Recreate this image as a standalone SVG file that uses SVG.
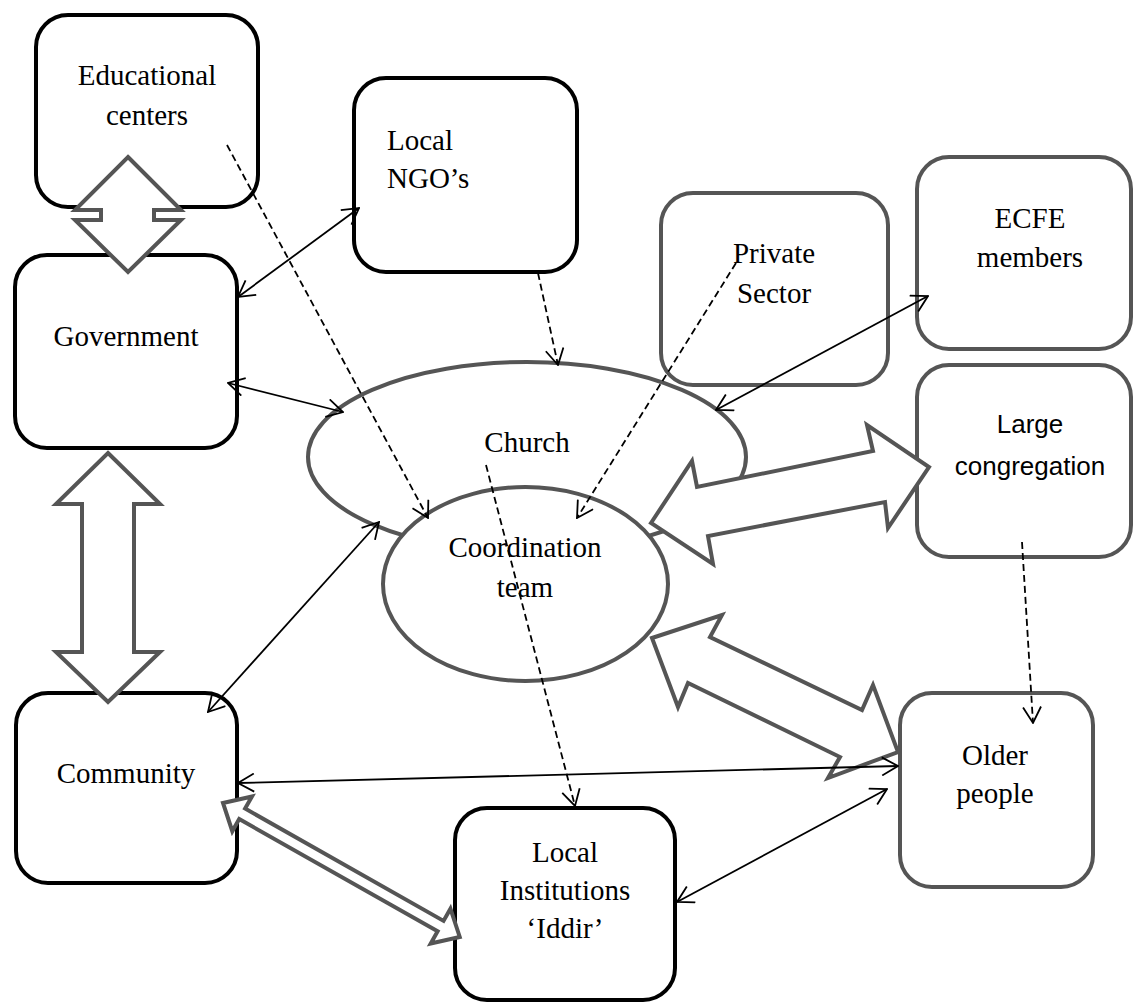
<svg xmlns="http://www.w3.org/2000/svg" width="1134" height="1003" viewBox="0 0 1134 1003">
<style>
.bk{fill:#fff;stroke:#000;stroke-width:4}
.gy{fill:#fff;stroke:#555;stroke-width:4}
.t{font-family:"Liberation Serif","Times New Roman",serif;font-size:29px;fill:#000;text-anchor:middle}
.ts{font-family:"Liberation Sans",Arial,sans-serif;font-size:26px;fill:#000;text-anchor:middle}
.ln{fill:none;stroke:#000;stroke-width:1.8}
.ds{fill:none;stroke:#000;stroke-width:1.8;stroke-dasharray:7 4}
.blk{fill:#fff;stroke:#555;stroke-width:4;stroke-linejoin:miter}
</style>
<defs>
<marker id="ah" viewBox="0 0 18 20" refX="17" refY="10" markerWidth="18" markerHeight="20" markerUnits="userSpaceOnUse" orient="auto-start-reverse">
<path d="M1,1 L17,10 L1,19" fill="none" stroke="#000" stroke-width="1.8" stroke-dasharray="none"/>
</marker>
</defs>
<g id="church"><ellipse class="gy" cx="527" cy="457" rx="219" ry="95"/><text class="t" x="527" y="452">Church</text></g>
<g id="coordination"><ellipse class="gy" cx="525.5" cy="584" rx="142.5" ry="97"/><text class="t" x="525" y="557">Coordination</text><text class="t" x="525" y="597">team</text></g>
<g id="educational"><rect class="bk" x="36" y="15" width="222" height="192" rx="32"/><text class="t" x="147" y="85">Educational</text><text class="t" x="147" y="125">centers</text></g>
<g id="ngo"><rect class="bk" x="354" y="78" width="223" height="194" rx="32"/><text class="t" x="387" y="150" style="text-anchor:start">Local</text><text class="t" x="387" y="188" style="text-anchor:start">NGO’s</text></g>
<g id="government"><rect class="bk" x="15" y="255" width="222" height="193" rx="32"/><text class="t" x="126" y="346">Government</text></g>
<g id="private"><rect class="gy" x="661" y="193" width="227" height="192" rx="32"/><text class="t" x="774" y="263">Private</text><text class="t" x="774" y="303">Sector</text></g>
<g id="ecfe"><rect class="gy" x="917" y="157" width="214" height="192" rx="32"/><text class="t" x="1030" y="228">ECFE</text><text class="t" x="1030" y="267">members</text></g>
<g id="large"><rect class="gy" x="917" y="365" width="214" height="192" rx="32"/><text class="ts" x="1030" y="433">Large</text><text class="ts" x="1030" y="475">congregation</text></g>
<g id="community"><rect class="bk" x="16" y="693" width="221" height="190" rx="32"/><text class="t" x="126" y="783">Community</text></g>
<g id="localinst"><rect class="bk" x="455" y="808" width="220" height="192" rx="32"/><text class="t" x="565" y="862">Local</text><text class="t" x="565" y="900">Institutions</text><text class="t" x="565" y="938">‘Iddir’</text></g>
<g id="older"><rect class="gy" x="900" y="693" width="193" height="194" rx="32"/><text class="t" x="995" y="765">Older</text><text class="t" x="995" y="803">people</text></g>
<g id="connectors">
<polygon class="blk" points="128,157 181,210 154,210 154,220 181,220 128,272 75,220 101,220 101,210 75,210"/>
<polygon class="blk" points="108,453 160,504 134,504 134,652 160,652 108,702 56,652 82,652 82,504 56,504"/>
<polygon class="blk" points="651,523 692,461 697,487 873,451 867,425 929,467 888,528 885,502 708,536 713,564"/>
<polygon class="blk" points="652,638 722,615 710,637 862,710 873,685 898,752 828,778 840,757 688,683 678,707"/>
<polygon class="blk" transform="translate(223,803) rotate(29.5)" points="0,0 22,-20 22,-6 250,-6 250,-20 272,0 250,20 250,6 22,6 22,20"/>
<line class="ln" x1="238" y1="297" x2="359" y2="208" marker-start="url(#ah)" marker-end="url(#ah)"/>
<line class="ln" x1="228" y1="383" x2="343" y2="412" marker-start="url(#ah)" marker-end="url(#ah)"/>
<line class="ln" x1="208" y1="712" x2="379" y2="522" marker-start="url(#ah)" marker-end="url(#ah)"/>
<line class="ln" x1="238" y1="783" x2="898" y2="766" marker-start="url(#ah)" marker-end="url(#ah)"/>
<line class="ln" x1="677" y1="902" x2="887" y2="789" marker-start="url(#ah)" marker-end="url(#ah)"/>
<line class="ln" x1="928" y1="296" x2="716" y2="410" marker-start="url(#ah)" marker-end="url(#ah)"/>
<line class="ds" x1="227" y1="145" x2="428" y2="518" marker-end="url(#ah)"/>
<line class="ds" x1="538" y1="273" x2="558" y2="365" marker-end="url(#ah)"/>
<line class="ds" x1="736" y1="263" x2="577" y2="518" marker-end="url(#ah)"/>
<line class="ds" x1="486" y1="465" x2="575" y2="806" marker-end="url(#ah)"/>
<line class="ds" x1="1022" y1="542" x2="1033" y2="723" marker-end="url(#ah)"/>
</g>
</svg>
